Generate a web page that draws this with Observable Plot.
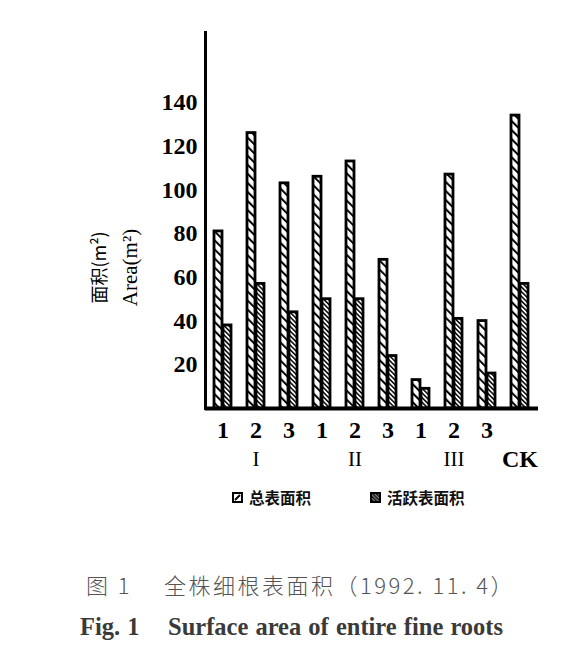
<!DOCTYPE html>
<html>
<head>
<meta charset="utf-8">
<script src="https://cdn.jsdelivr.net/npm/d3@7"></script>
<script src="https://cdn.jsdelivr.net/npm/@observablehq/plot@0.6"></script>
<style>
  html, body { margin: 0; padding: 0; background: #fff; }
  #wrap { position: relative; width: 574px; height: 664px; overflow: hidden; }
  #chart { position: absolute; left: 0; top: 0; }
  .legend { position: absolute; top: 486px; left: 0; width: 574px; height: 22px;
            font-family: "Noto Sans CJK SC", sans-serif; font-weight: bold; font-size: 15.5px; color: #111; }
  .legend .item { position: absolute; top: 0; display: flex; align-items: center; height: 22px; }
  .legend svg { margin-right: 6px; }
  .cap1 { position: absolute; left: 86px; top: 569px; font-family: "Noto Sans CJK SC", sans-serif;
          font-weight: 300; font-size: 22px; letter-spacing: 2.5px; color: #555; white-space: pre; line-height: 30px; }
  .cap2 { position: absolute; left: 80px; top: 612px; font-family: "Liberation Serif", "Times New Roman", serif;
          font-weight: bold; font-size: 24.5px; color: #3a3a3a; white-space: pre; line-height: 30px; word-spacing: 1px; }
</style>
</head>
<body>
<div id="wrap">
  <div id="chart"></div>
  <div class="legend" id="legend"></div>
  <div class="cap1" id="cap1"></div>
  <div class="cap2" id="cap2"></div>
</div>
<script>
// ---- data ----
const groups = ["I-1","I-2","I-3","II-1","II-2","II-3","III-1","III-2","III-3","CK"];
const totalArea  = [81, 126, 103, 106, 113, 68, 13, 107, 40, 134];
const activeArea = [38, 57, 44, 50, 50, 24, 9, 41, 16, 57];
const tickNums    = ["1","2","3","1","2","3","1","2","3",""];
const romanLabels = ["","I","","","II","","","III","",""];
const ckLabels    = ["","","","","","","","","","CK"];
const yTicks = [20, 40, 60, 80, 100, 120, 140];
const seriesNames = ["总表面积", "活跃表面积"];
const yLabelCn = "面积(m²)";
const yLabelEn = "Area(m²)";
const caption1 = "图 1　 全株细根表面积（1992. 11. 4）";
const caption2 = "Fig. 1    Surface area of entire fine roots";

const serif = "'Liberation Serif', 'Times New Roman', serif";
const romanData = groups.map((g, i) => ({g, t: romanLabels[i]})).filter(d => d.t);
const ckData = groups.map((g, i) => ({g, t: ckLabels[i]})).filter(d => d.t);

const plot = Plot.plot({
  width: 574,
  height: 480,
  marginLeft: 205,
  marginRight: 36,
  marginTop: 32,
  marginBottom: 72,
  style: {fontFamily: serif, background: "transparent", color: "#000"},
  x: {type: "band", domain: groups, paddingInner: 0.47, paddingOuter: 0.16, axis: null},
  y: {domain: [0, 172], axis: null},
  marks: [
    Plot.barY(totalArea, {x: groups, y: totalArea, insetRight: 9, fill: "url(#hatchTotal)", stroke: "#000", strokeWidth: 2.8}),
    Plot.barY(activeArea, {x: groups, y: activeArea, insetLeft: 9, fill: "url(#hatchActive)", stroke: "#000", strokeWidth: 2.8}),
    Plot.frame({anchor: "left", stroke: "#000", strokeWidth: 3}),
    Plot.ruleY([0], {stroke: "#000", strokeWidth: 4}),
    Plot.axisY({ticks: yTicks, tickSize: 0, tickPadding: 8, fontSize: 24, fontWeight: "bold", fontFamily: serif, label: null}),
    Plot.axisX({tickFormat: d => tickNums[groups.indexOf(d)], tickSize: 0, tickPadding: 12, fontSize: 24, fontWeight: "bold", fontFamily: serif, label: null}),
    Plot.text(romanData, {x: "g", text: "t", frameAnchor: "bottom", dy: 57, fontSize: 21, fontFamily: serif}),
    Plot.text(ckData, {x: "g", text: "t", frameAnchor: "bottom", dy: 58, fontSize: 24, fontWeight: "bold", fontFamily: serif}),
    Plot.text([yLabelCn], {text: d => d, frameAnchor: "left", dx: -105, dy: 47, rotate: -90, textAnchor: "middle",
      fontSize: 18, fontFamily: "'Noto Sans CJK SC', sans-serif", ariaLabel: "ylabel-cn"}),
    Plot.text([yLabelEn], {text: d => d, frameAnchor: "left", dx: -75, dy: 47, rotate: -90, textAnchor: "middle",
      fontSize: 21, fontFamily: serif, ariaLabel: "ylabel-en"})
  ]
});

// hatch patterns
const defs = d3.select(plot).insert("defs", ":first-child");
function hatch(id, gap, sw) {
  const p = defs.append("pattern").attr("id", id).attr("patternUnits", "userSpaceOnUse")
    .attr("width", gap).attr("height", gap).attr("patternTransform", "rotate(-45)");
  p.append("rect").attr("width", gap).attr("height", gap).attr("fill", "#fff");
  p.append("rect").attr("x", 0).attr("y", 0).attr("width", sw).attr("height", gap).attr("fill", "#000");
}
hatch("hatchTotal", 6.4, 2);
hatch("hatchActive", 3.3, 1.5);

d3.select(plot).selectAll('[aria-label="ylabel-cn"] text').style("letter-spacing", "4px").style("font-weight", "500");
d3.select(plot).selectAll('[aria-label="ylabel-en"] text').style("letter-spacing", "3px");

document.getElementById("chart").appendChild(plot);

// legend
const legend = document.getElementById("legend");
const iconSvgs = [
  `<svg width="11" height="11" viewBox="0 0 11 11"><rect x="1" y="1" width="9" height="9" fill="#fff" stroke="#000" stroke-width="2"/><path d="M3,8 L8,3" stroke="#000" stroke-width="2"/></svg>`,
  `<svg width="11" height="11" viewBox="0 0 11 11"><defs><pattern id="lgA" patternUnits="userSpaceOnUse" width="2.5" height="2.5" patternTransform="rotate(-45)"><rect width="2.5" height="2.5" fill="#888"/><rect width="1.4" height="2.5" fill="#111"/></pattern></defs><rect x="1" y="1" width="9" height="9" fill="url(#lgA)" stroke="#000" stroke-width="2"/></svg>`
];
const lefts = [232, 370];
seriesNames.forEach((name, i) => {
  const item = document.createElement("div");
  item.className = "item";
  item.style.left = lefts[i] + "px";
  item.innerHTML = iconSvgs[i] + `<span>${name}</span>`;
  legend.appendChild(item);
});

document.getElementById("cap1").textContent = caption1;
document.getElementById("cap2").textContent = caption2;
</script>
</body>
</html>
